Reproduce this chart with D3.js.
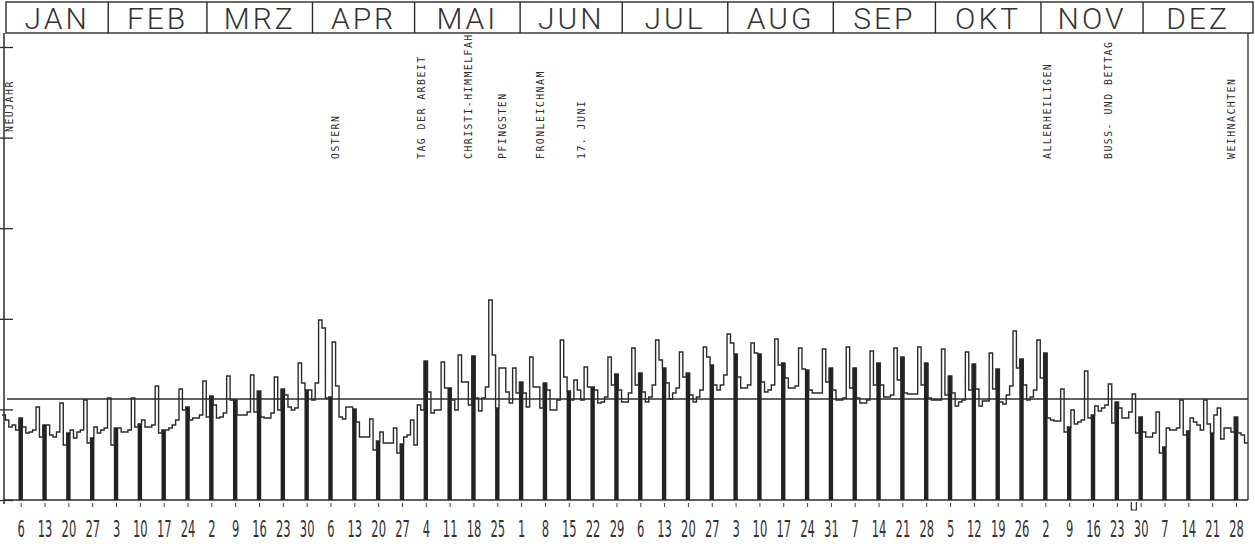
<!DOCTYPE html>
<html>
<head>
	<meta charset="utf-8">
	<title>Tagesverkehr 1980</title>
	<script src="https://cdn.jsdelivr.net/npm/d3@7/dist/d3.min.js"></script>
	<style>
		body { margin: 0; background: #fff; }
		svg { display: block; }
		.ink { stroke: #2b2b2b; fill: none; }
		.month { font-family: Roboto, "DejaVu Sans", sans-serif; font-weight: 300; font-size: 30px; fill: #333; letter-spacing: 3px; }
		.holiday { font-family: "DejaVu Sans Mono", monospace; font-size: 9.8px; fill: #2e2e2e; letter-spacing: 1.5px; }
		.day { font-family: "DejaVu Sans", sans-serif; font-size: 23px; fill: #333; }
	</style>
</head>
<body>
	<svg id="chart" width="1255" height="546"></svg>

	<script>
		// year 1980 (leap year), one value per day, index 100 ~ yearly mean
		var months = ['JAN', 'FEB', 'MRZ', 'APR', 'MAI', 'JUN', 'JUL', 'AUG', 'SEP', 'OKT', 'NOV', 'DEZ'];
		var monthDays = [31, 29, 31, 30, 31, 30, 31, 31, 30, 31, 30, 31];

		var jan = [85, 80, 73, 75, 70, 82, 73, 67, 68, 70, 93, 63, 75, 75, 65, 63, 68, 97, 55, 67, 70, 62, 68, 70, 100, 57, 62, 73, 67, 70, 72];
		var feb = [102, 55, 72, 72, 68, 68, 70, 102, 73, 76, 80, 73, 73, 75, 114, 67, 70, 70, 72, 75, 80, 111, 90, 93, 80, 82, 82, 85, 119];
		var mrz = [83, 104, 95, 82, 83, 87, 124, 100, 100, 85, 85, 85, 88, 125, 88, 109, 83, 82, 82, 87, 123, 90, 111, 105, 93, 90, 92, 137, 117, 110, 110];
		var apr = [100, 117, 180, 172, 102, 103, 158, 114, 83, 81, 93, 93, 91, 78, 63, 63, 63, 81, 50, 59, 68, 57, 57, 57, 72, 47, 56, 63, 65, 80];
		var mai = [55, 95, 90, 139, 108, 87, 90, 90, 138, 112, 112, 100, 90, 145, 118, 118, 95, 144, 102, 89, 102, 113, 200, 145, 92, 132, 132, 108, 97, 132, 107];
		var jun = [118, 107, 93, 143, 113, 113, 92, 117, 110, 90, 90, 100, 160, 123, 109, 100, 120, 110, 100, 133, 113, 113, 110, 97, 98, 103, 143, 115, 126, 110];
		var jul = [98, 98, 107, 152, 115, 127, 108, 98, 103, 115, 160, 140, 132, 117, 101, 107, 112, 148, 123, 127, 105, 98, 103, 110, 153, 143, 135, 115, 110, 115, 125];
		var aug = [166, 157, 146, 123, 112, 112, 115, 157, 147, 146, 118, 108, 110, 115, 161, 135, 137, 122, 112, 112, 114, 152, 131, 130, 110, 107, 107, 107, 151, 118, 132];
		var sep = [110, 100, 100, 102, 153, 112, 132, 102, 97, 97, 100, 149, 115, 137, 115, 103, 103, 105, 152, 120, 143, 107, 106, 106, 106, 153, 115, 137, 102, 100];
		var okt = [100, 100, 151, 105, 124, 107, 94, 98, 100, 148, 110, 136, 111, 94, 99, 99, 147, 111, 131, 98, 96, 105, 114, 169, 132, 141, 115, 100, 103, 110, 160];
		var nov = [122, 147, 82, 80, 79, 79, 111, 68, 73, 90, 76, 78, 80, 129, 82, 85, 94, 89, 92, 95, 116, 77, 98, 92, 82, 82, 88, 106, 67, 83];
		var dez = [68, 63, 63, 67, 88, 47, 53, 72, 70, 70, 72, 100, 65, 69, 82, 78, 75, 70, 100, 76, 67, 85, 92, 61, 72, 72, 68, 83, 67, 65, 57];

		var meanValue = 101;

		// sunday date labels along the bottom
		var sundayLabels = [6, 13, 20, 27, 3, 10, 17, 24, 2, 9, 16, 23, 30, 6, 13, 20, 27, 4, 11, 18, 25, 1, 8, 15, 22, 29,
			6, 13, 20, 27, 3, 10, 17, 24, 31, 7, 14, 21, 28, 5, 12, 19, 26, 2, 9, 16, 23, 30, 7, 14, 21, 28];

		var holidayNames = ['NEUJAHR', 'OSTERN', 'TAG DER ARBEIT', 'CHRISTI-HIMMELFAHRT', 'PFINGSTEN', 'FRONLEICHNAM',
			'17. JUNI', 'ALLERHEILIGEN', 'BUSS- UND BETTAG', 'WEIHNACHTEN'];
		var holidayDates = ['1980-01-01', '1980-04-06', '1980-05-01', '1980-05-15', '1980-05-25', '1980-06-05',
			'1980-06-17', '1980-11-01', '1980-11-19', '1980-12-25'];

		var values = [].concat(jan, feb, mrz, apr, mai, jun, jul, aug, sep, okt, nov, dez);
		var yearStart = new Date(Date.UTC(1980, 0, 1));
		var dayIndex = s => Math.round((new Date(s + 'T00:00:00Z') - yearStart) / 864e5);
		var days = values.map((v, i) => ({ i: i, v: v, sunday: new Date(yearStart.getTime() + i * 864e5).getUTCDay() === 0 }));

		var svg = d3.select('#chart'),
			width = +svg.attr('width'),
			height = +svg.attr('height');

		var plotL = 4, plotR = 1248, headB = 33, base = 500;

		var x = d3.scaleLinear().domain([0, values.length - 1]).range([3.7, 1246.2]);
		var y = d3.scaleLinear().domain([0, 453]).range([base, 47]);

		// month header
		var monthStart = d3.cumsum([0].concat(monthDays.slice(0, -1)));
		var header = svg.append('g');
		header.append('rect').attr('class', 'ink')
			.attr('x', 6).attr('y', 2).attr('width', 1247).attr('height', headB - 2)
			.attr('stroke-width', 1.4);
		header.selectAll('line.sep')
			.data(monthStart.slice(1))
			.enter().append('line')
			.attr('class', 'ink')
			.attr('stroke-width', 1.4)
			.attr('x1', d => x(d) - 1).attr('x2', d => x(d) - 1)
			.attr('y1', 2).attr('y2', headB);
		header.selectAll('text')
			.data(months)
			.enter().append('text')
			.attr('class', 'month')
			.attr('text-anchor', 'middle')
			.attr('x', (d, i) => {
				var a = i === 0 ? 6 : x(monthStart[i]) - 1;
				var b = i === 11 ? 1253 : x(monthStart[i + 1]) - 1;
				return (a + b) / 2;
			})
			.attr('y', 29)
			.text(d => d);

		// frame: left axis, right edge, baseline, mean line
		svg.append('line').attr('class', 'ink').attr('stroke-width', 1.5)
			.attr('x1', plotL).attr('x2', plotL).attr('y1', headB).attr('y2', base + 4);
		svg.append('line').attr('class', 'ink').attr('stroke-width', 1.3)
			.attr('x1', plotR).attr('x2', plotR).attr('y1', headB).attr('y2', base);
		svg.append('line').attr('class', 'ink').attr('stroke-width', 1.5)
			.attr('x1', plotL).attr('x2', plotR).attr('y1', base).attr('y2', base);
		svg.append('line').attr('class', 'ink').attr('stroke-width', 1.3)
			.attr('x1', 7).attr('x2', plotR).attr('y1', y(meanValue)).attr('y2', y(meanValue));

		var yAxis = svg.append('g')
			.call(d3.axisRight(y).tickValues(d3.range(6).map(k => k * 453 / 5)).tickSize(13).tickFormat(''));
		yAxis.select('.domain').remove();
		yAxis.selectAll('line').attr('stroke', '#2b2b2b').attr('stroke-width', 1.3);

		// holiday labels, reading upwards from just above the curve area
		svg.append('clipPath').attr('id', 'plotclip')
			.append('rect').attr('x', 0).attr('y', headB + 2).attr('width', width).attr('height', base - headB);
		svg.append('g')
			.attr('clip-path', 'url(#plotclip)')
			.selectAll('text')
			.data(holidayNames)
			.enter().append('text')
			.attr('class', 'holiday')
			.attr('transform', (d, i) => 'translate(' + (x(dayIndex(holidayDates[i])) + 9) + ',' + (i === 0 ? 132 : 159) + ') rotate(-90)')
			.text(d => d);

		// sunday bars
		svg.append('g')
			.selectAll('rect')
			.data(days.filter(d => d.sunday))
			.enter().append('rect')
			.attr('x', d => x(d.i) - 2.2)
			.attr('width', 4.4)
			.attr('y', d => y(d.v))
			.attr('height', d => base - y(d.v))
			.attr('fill', '#222');

		// daily step line
		var line = d3.line()
			.x(d => x(d.i))
			.y(d => y(d.v))
			.curve(d3.curveStep);
		var stepPts = [{ i: -0.5, v: days[0].v }].concat(days, [{ i: values.length - 0.5, v: days[days.length - 1].v }]);
		svg.append('path')
			.datum(stepPts)
			.attr('class', 'ink')
			.attr('stroke-width', 1.4)
			.attr('d', line);

		// bottom axis with sunday dates
		var sundays = days.filter(d => d.sunday).map(d => d.i);
		var xAxis = svg.append('g')
			.attr('transform', 'translate(0,' + base + ')')
			.call(d3.axisBottom(x).tickValues(sundays).tickSize(7).tickFormat((d, i) => sundayLabels[i]));
		xAxis.select('.domain').remove();
		xAxis.selectAll('line').attr('stroke', '#444').attr('stroke-width', 1).attr('y1', 3);
		xAxis.selectAll('text')
			.attr('class', 'day')
			.attr('y', 0)
			.attr('dy', 0)
			.attr('transform', 'translate(0,37) scale(0.5,1)');

		// small plotter mark below the baseline at the end of november
		svg.append('path').attr('class', 'ink').attr('stroke-width', 1.2)
			.attr('d', d3.line()([[x(332) - 2.5, base + 2], [x(332) - 2.5, base + 10], [x(332) + 2.5, base + 10], [x(332) + 2.5, base + 2]]));
	</script>
</body>
</html>
